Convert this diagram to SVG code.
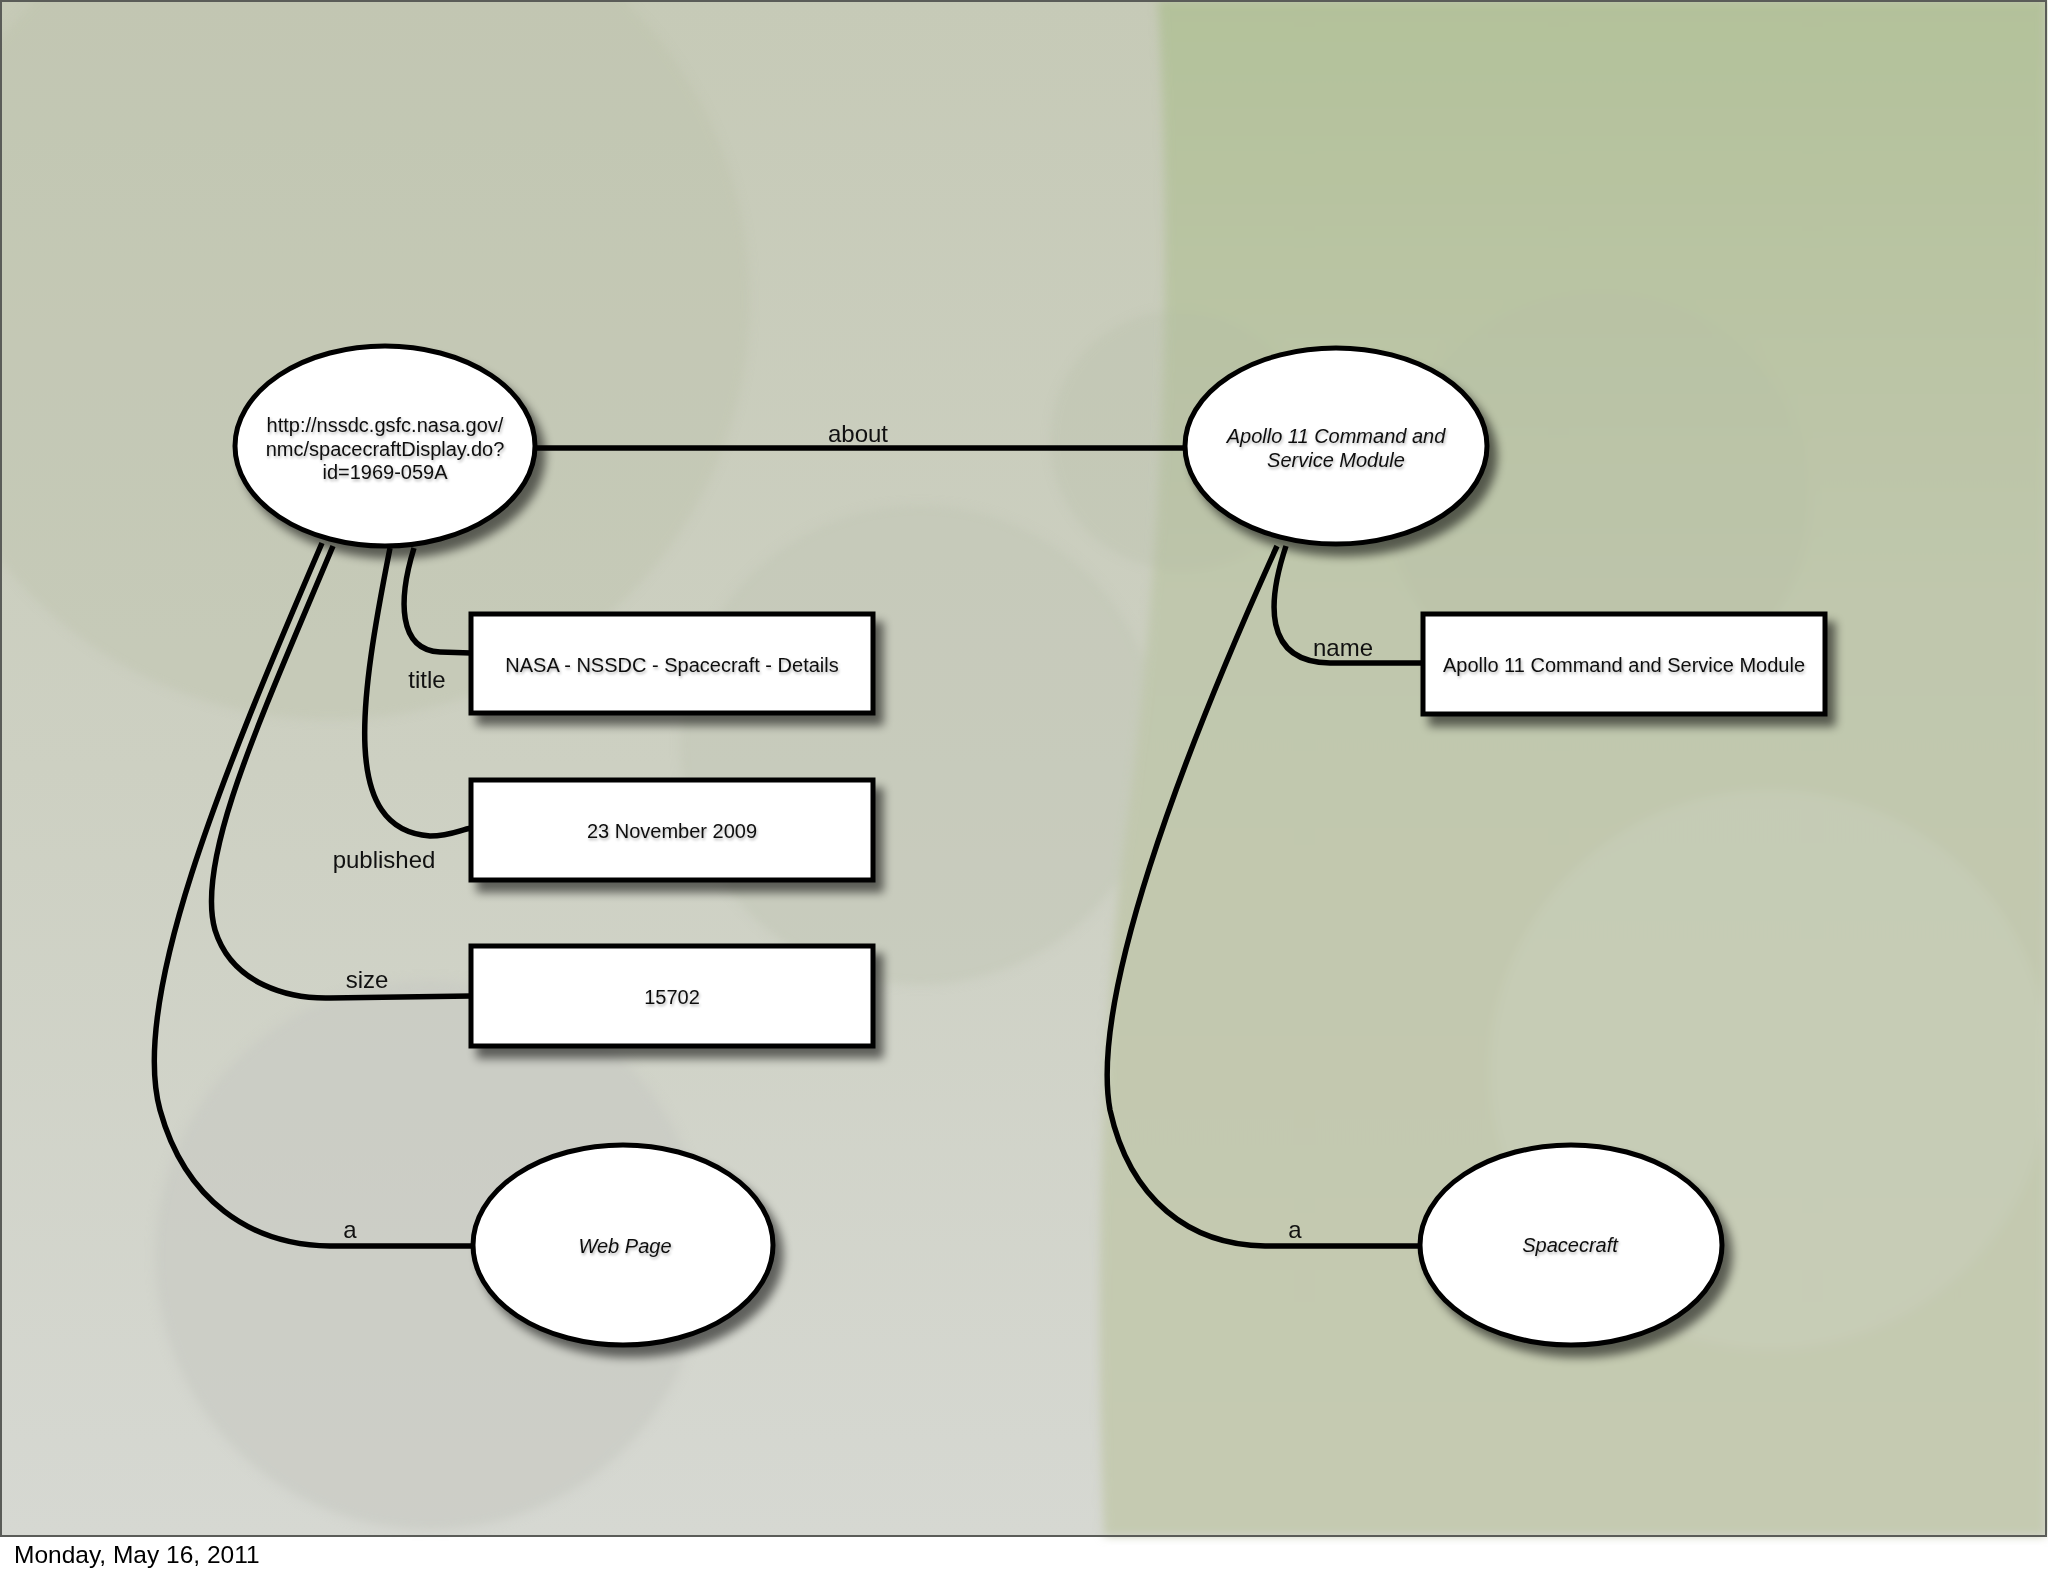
<svg xmlns="http://www.w3.org/2000/svg" width="2048" height="1576" viewBox="0 0 2048 1576">
<defs>
<linearGradient id="bgL" x1="0" y1="0" x2="0" y2="1">
<stop offset="0" stop-color="#c6cab7"/>
<stop offset="0.5" stop-color="#cdd0c2"/>
<stop offset="1" stop-color="#d6d8d2"/>
</linearGradient>
<linearGradient id="bgR" x1="0" y1="0" x2="0" y2="1">
<stop offset="0" stop-color="#b3c19a"/>
<stop offset="0.4" stop-color="#c0c7ad"/>
<stop offset="1" stop-color="#c5cab1"/>
</linearGradient>
<filter id="sh" x="-20%" y="-20%" width="150%" height="150%">
<feGaussianBlur in="SourceAlpha" stdDeviation="5"/>
<feOffset dx="8" dy="10"/>
<feComponentTransfer><feFuncA type="linear" slope="0.55"/></feComponentTransfer>
<feMerge><feMergeNode/><feMergeNode in="SourceGraphic"/></feMerge>
</filter>
<filter id="tsh" x="-10%" y="-30%" width="120%" height="160%">
<feGaussianBlur in="SourceAlpha" stdDeviation="1.5"/>
<feOffset dx="1" dy="2"/>
<feComponentTransfer><feFuncA type="linear" slope="0.3"/></feComponentTransfer>
<feMerge><feMergeNode/><feMergeNode in="SourceGraphic"/></feMerge>
</filter>
<filter id="soft" x="-5%" y="-5%" width="110%" height="110%"><feGaussianBlur stdDeviation="5"/></filter>
</defs>
<style>
.node{fill:#ffffff;stroke:#000000;stroke-width:5}
.edge{fill:none;stroke:#000000;stroke-width:5.5}
.t{font-family:"Liberation Sans",Arial,Helvetica,sans-serif;font-size:20px;fill:#111111;text-anchor:middle}
.ti{font-style:italic}
.lab{font-family:"Liberation Sans",Arial,Helvetica,sans-serif;font-size:24px;fill:#111111;text-anchor:middle}
.foot{font-family:"Liberation Sans",Arial,Helvetica,sans-serif;font-size:24.5px;fill:#000000}
</style>

<!-- background -->
<rect x="0" y="0" width="2048" height="1576" fill="#ffffff"/>
<g id="background">
<rect x="0" y="0" width="2046" height="1536" fill="url(#bgL)"/>
<g filter="url(#soft)">
<circle cx="330" cy="300" r="420" fill="#b9bfa8" opacity="0.35"/>
<circle cx="920" cy="745" r="240" fill="#c2c6b5" opacity="0.5"/>
<circle cx="430" cy="1255" r="275" fill="#c9cac3" opacity="0.7"/>
<path d="M1158,0 L2046,0 L2046,1536 L1104,1536 C1095,1300 1100,1000 1130,800 C1160,560 1175,300 1158,0 Z" fill="url(#bgR)"/>
<circle cx="1600" cy="500" r="210" fill="#b8bfa6" opacity="0.35"/>
<circle cx="1770" cy="1070" r="280" fill="#cad0bb" opacity="0.5"/>
<circle cx="1180" cy="440" r="130" fill="#b5bca4" opacity="0.25"/>
</g>
<rect x="1" y="1" width="2045" height="1535" fill="none" stroke="#5a5c58" stroke-width="2"/>
</g>

<!-- connectors -->
<g id="connectors">
<path class="edge" d="M535,448 L1185,448"/>
<path class="edge" d="M414,548 C398,600 398,650 440,652 L471,653"/>
<path class="edge" d="M390,548 C360,700 340,830 430,836 C450,836 460,830 471,828"/>
<path class="edge" d="M333,546 C260,720 195,860 215,930 C232,985 290,999 330,998 L471,996"/>
<path class="edge" d="M322,543 C220,780 130,1000 160,1110 C185,1200 250,1245 330,1246 L473,1246"/>
<path class="edge" d="M1286,546 C1268,600 1262,662 1330,663 L1423,663"/>
<path class="edge" d="M1277,546 C1180,760 1090,1000 1110,1110 C1130,1200 1190,1245 1265,1246 L1420,1246"/>
<text class="lab" x="858" y="442">about</text>
<text class="lab" x="427" y="688">title</text>
<text class="lab" x="384" y="868">published</text>
<text class="lab" x="367" y="988">size</text>
<text class="lab" x="350" y="1238">a</text>
<text class="lab" x="1343" y="656">name</text>
<text class="lab" x="1295" y="1238">a</text>
</g>

<!-- nodes -->
<g id="node-url">
<ellipse class="node" cx="385" cy="446" rx="150" ry="100" filter="url(#sh)"/>
<g filter="url(#tsh)">
<text class="t" x="385" y="432">http://nssdc.gsfc.nasa.gov/</text>
<text class="t" x="385" y="456">nmc/spacecraftDisplay.do?</text>
<text class="t" x="385" y="479">id=1969-059A</text>
</g>
</g>
<g id="node-apollo">
<ellipse class="node" cx="1336" cy="446" rx="151" ry="98" filter="url(#sh)"/>
<g filter="url(#tsh)">
<text class="t ti" x="1336" y="443">Apollo 11 Command and</text>
<text class="t ti" x="1336" y="467">Service Module</text>
</g>
</g>
<g id="node-title">
<rect class="node" x="471" y="614" width="402" height="99" filter="url(#sh)"/>
<text class="t" x="672" y="672" filter="url(#tsh)">NASA - NSSDC - Spacecraft - Details</text>
</g>
<g id="node-published">
<rect class="node" x="471" y="780" width="402" height="100" filter="url(#sh)"/>
<text class="t" x="672" y="838" filter="url(#tsh)">23 November 2009</text>
</g>
<g id="node-size">
<rect class="node" x="471" y="946" width="402" height="100" filter="url(#sh)"/>
<text class="t" x="672" y="1004" filter="url(#tsh)">15702</text>
</g>
<g id="node-name">
<rect class="node" x="1423" y="614" width="402" height="100" filter="url(#sh)"/>
<text class="t" x="1624" y="672" filter="url(#tsh)">Apollo 11 Command and Service Module</text>
</g>
<g id="node-webpage">
<ellipse class="node" cx="623" cy="1245" rx="150" ry="100" filter="url(#sh)"/>
<text class="t ti" x="625" y="1253" filter="url(#tsh)">Web Page</text>
</g>
<g id="node-spacecraft">
<ellipse class="node" cx="1571" cy="1245" rx="151" ry="100" filter="url(#sh)"/>
<text class="t ti" x="1570" y="1252" filter="url(#tsh)">Spacecraft</text>
</g>

<text class="foot" x="14" y="1563">Monday, May 16, 2011</text>
</svg>
